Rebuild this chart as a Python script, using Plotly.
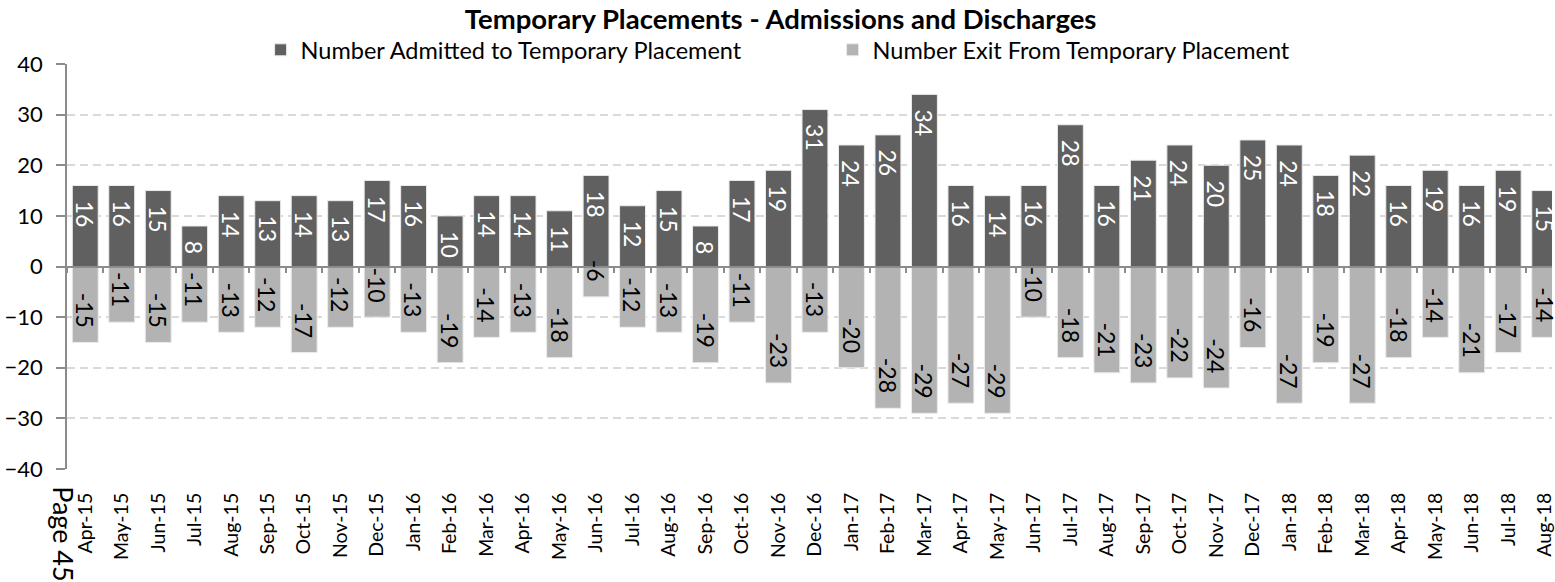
import plotly.graph_objects as go

# Monthly series, April 2015 to August 2018
months = [
    "Apr-15", "May-15", "Jun-15", "Jul-15", "Aug-15", "Sep-15", "Oct-15", "Nov-15",
    "Dec-15", "Jan-16", "Feb-16", "Mar-16", "Apr-16", "May-16", "Jun-16", "Jul-16",
    "Aug-16", "Sep-16", "Oct-16", "Nov-16", "Dec-16", "Jan-17", "Feb-17", "Mar-17",
    "Apr-17", "May-17", "Jun-17", "Jul-17", "Aug-17", "Sep-17", "Oct-17", "Nov-17",
    "Dec-17", "Jan-18", "Feb-18", "Mar-18", "Apr-18", "May-18", "Jun-18", "Jul-18",
    "Aug-18",
]
admitted = [
    16, 16, 15, 8, 14, 13, 14, 13, 17, 16, 10, 14, 14, 11, 18, 12,
    15, 8, 17, 19, 31, 24, 26, 34, 16, 14, 16, 28, 16, 21, 24, 20,
    25, 24, 18, 22, 16, 19, 16, 19, 15,
]
exited = [
    -15, -11, -15, -11, -13, -12, -17, -12, -10, -13, -19, -14, -13, -18, -6, -12,
    -13, -19, -11, -23, -13, -20, -28, -29, -27, -29, -10, -18, -21, -23, -22, -24,
    -16, -27, -19, -27, -18, -14, -21, -17, -14,
]
y_ticks = [-40, -30, -20, -10, 0, 10, 20, 30, 40]

FONT = "Lato"
DARK = "#606060"
LIGHT = "#b3b3b3"
GRID = "#d9d9d9"
AXIS = "#8c8c8c"

fig = go.Figure()
fig.add_trace(go.Bar(
    x=months, y=admitted, name="Number Admitted to Temporary Placement",
    marker=dict(color=DARK, line=dict(color="#ebebeb", width=1)),
    hoverinfo="x+y",
))
fig.add_trace(go.Bar(
    x=months, y=exited, name="Number Exit From Temporary Placement",
    marker=dict(color=LIGHT, line=dict(color="#ebebeb", width=1)),
    hoverinfo="x+y",
))
# carrier for the category axis drawn along zero
fig.add_trace(go.Scatter(
    x=months, y=[0] * len(months), xaxis="x2", yaxis="y",
    mode="none", showlegend=False, hoverinfo="skip",
))

# value labels, rotated, set in from the end of each bar
annotations = []
for m, a, e in zip(months, admitted, exited):
    annotations.append(dict(
        x=m, y=a, xref="x", yref="y", text=str(a), showarrow=False,
        textangle=90, yanchor="top", xanchor="center", yshift=-13,
        font=dict(family=FONT, size=23, color="white"),
    ))
    annotations.append(dict(
        x=m, y=e, xref="x", yref="y", text=str(e), showarrow=False,
        textangle=90, yanchor="bottom", xanchor="center", yshift=13,
        font=dict(family=FONT, size=23, color="black"),
    ))
annotations.append(dict(
    x=-0.0028, y=-0.037, xref="paper", yref="paper", text="Page 45",
    showarrow=False, textangle=90, xanchor="center", yanchor="top",
    font=dict(family=FONT, size=27, color="black"),
))

fig.update_layout(
    width=1555, height=582,
    margin=dict(l=67, r=0, t=63.5, b=112.7, pad=0),
    paper_bgcolor="white", plot_bgcolor="white",
    barmode="relative", bargap=0.29,
    font=dict(family=FONT, color="black"),
    title=dict(
        text="Temporary Placements - Admissions and Discharges",
        xref="container", x=0.502, xanchor="center",
        yref="container", y=0.966, yanchor="middle",
        font=dict(family=FONT, size=27.5, color="black", weight="bold"),
    ),
    legend=dict(
        orientation="h", x=(261 - 67) / 1488, xanchor="left",
        y=1.0345, yanchor="middle", itemwidth=30, entrywidth=527,
        font=dict(family=FONT, size=23.5, color="black"),
        bgcolor="rgba(0,0,0,0)", traceorder="normal",
    ),
    xaxis=dict(
        type="category", range=[-0.5, 40.2], showgrid=False, showline=False,
        ticks="outside", ticklen=15, tickcolor="rgba(0,0,0,0)",
        tickangle=-90, zeroline=False,
        tickfont=dict(family=FONT, size=19.5, color="black"),
    ),
    xaxis2=dict(
        type="category", matches="x", overlaying="x", anchor="free", position=0.5,
        showline=True, linecolor=AXIS, linewidth=1.5,
        ticks="outside", tickson="boundaries", ticklen=6, tickcolor=AXIS, tickwidth=1.5,
        showticklabels=False, showgrid=False, zeroline=False,
    ),
    yaxis=dict(
        range=[-40, 40], tickvals=y_ticks, showline=True, linecolor=AXIS, linewidth=1.5,
        ticks="outside", ticklen=9, tickcolor=AXIS, tickwidth=1.5, ticklabelstandoff=9,
        showgrid=True, gridcolor=GRID, gridwidth=2, griddash="8px,5px",
        zeroline=False,
        tickfont=dict(family=FONT, size=22, color="black"),
    ),
    annotations=annotations,
)

fig.write_html("out.html")
